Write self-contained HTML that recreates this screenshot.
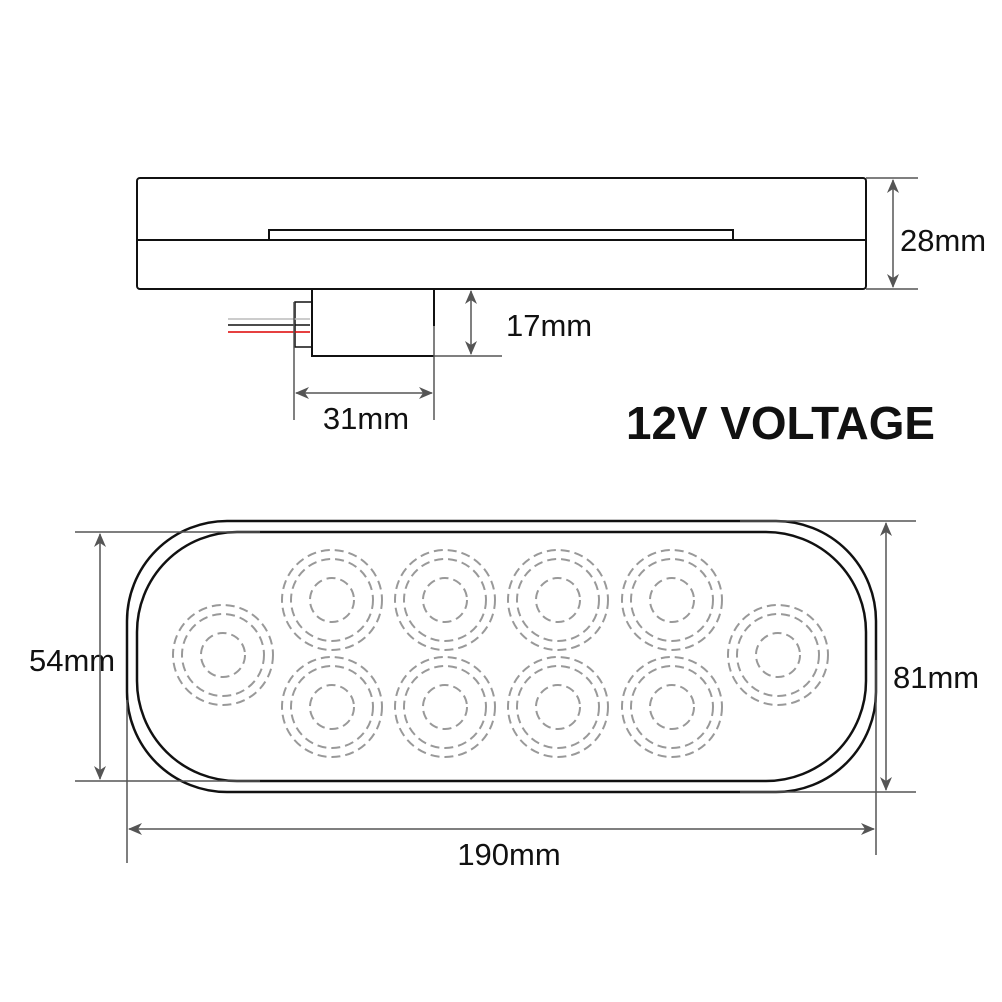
<!DOCTYPE html>
<html><head><style>body{margin:0;background:#fff}svg{display:block}</style></head><body>
<svg width="1002" height="1002" viewBox="0 0 1002 1002" xmlns="http://www.w3.org/2000/svg" font-family="Liberation Sans, Arial, sans-serif">
<defs>
<marker id="a" viewBox="0 0 14 12" refX="13" refY="6" markerWidth="14" markerHeight="12" orient="auto-start-reverse" markerUnits="userSpaceOnUse"><path d="M0,0 L14,6 L0,12 L4,6 Z" fill="#555"/></marker>
<g id="led" fill="none" stroke="#999" stroke-width="2" stroke-dasharray="9,5"><circle r="50"/><circle r="41"/><circle r="22"/></g>
</defs>
<g fill="none" stroke="#111" stroke-width="2">
<rect x="137" y="178" width="729" height="111" rx="3"/>
<line x1="137" y1="240" x2="866" y2="240"/>
<polyline points="269,240 269,230 733,230 733,240"/>
<polyline points="312,289 312,356 434,356"/>
<line x1="434" y1="289" x2="434" y2="326"/>
<rect x="295" y="302" width="17" height="45" stroke-width="1.5"/>
</g>
<line x1="228" y1="319" x2="310" y2="319" stroke="#bbb" stroke-width="1.5"/>
<line x1="228" y1="325" x2="310" y2="325" stroke="#111" stroke-width="1.5"/>
<line x1="228" y1="332" x2="310" y2="332" stroke="#d00" stroke-width="1.5"/>
<g stroke="#555" stroke-width="1.5" fill="none">
<line x1="866" y1="178" x2="918" y2="178"/><line x1="866" y1="289" x2="918" y2="289"/>
<line x1="893" y1="180" x2="893" y2="287" marker-start="url(#a)" marker-end="url(#a)"/>
<line x1="434" y1="356" x2="502" y2="356"/>
<line x1="471" y1="291" x2="471" y2="354" marker-start="url(#a)" marker-end="url(#a)"/>
<line x1="294" y1="302" x2="294" y2="420"/><line x1="434" y1="326" x2="434" y2="420"/>
<line x1="296" y1="393" x2="432" y2="393" marker-start="url(#a)" marker-end="url(#a)"/>
</g>
<g font-size="31" fill="#111">
<text x="900" y="251">28mm</text>
<text x="506" y="336">17mm</text>
<text x="366" y="429" text-anchor="middle">31mm</text>
<text x="893" y="688">81mm</text>
<text x="29" y="671">54mm</text>
<text x="509" y="865" text-anchor="middle">190mm</text>
</g>
<text x="626" y="439" font-size="46" font-weight="bold" fill="#111" textLength="309" lengthAdjust="spacingAndGlyphs">12V VOLTAGE</text>
<g fill="none" stroke="#111" stroke-width="2.5">
<rect x="127" y="521" width="749" height="271" rx="100"/>
<rect x="137" y="532" width="729" height="249" rx="100"/>
</g>
<g stroke="#555" stroke-width="1.5" fill="none">
<line x1="740" y1="521" x2="916" y2="521"/><line x1="740" y1="792" x2="916" y2="792"/>
<line x1="886" y1="523" x2="886" y2="790" marker-start="url(#a)" marker-end="url(#a)"/>
<line x1="75" y1="532" x2="260" y2="532"/><line x1="75" y1="781" x2="260" y2="781"/>
<line x1="100" y1="534" x2="100" y2="779" marker-start="url(#a)" marker-end="url(#a)"/>
<line x1="127" y1="700" x2="127" y2="863"/><line x1="876" y1="660" x2="876" y2="855"/>
<line x1="129" y1="829" x2="874" y2="829" marker-start="url(#a)" marker-end="url(#a)"/>
</g>
<use href="#led" x="223" y="655"/>
<use href="#led" x="778" y="655"/>
<use href="#led" x="332" y="600"/><use href="#led" x="445" y="600"/><use href="#led" x="558" y="600"/><use href="#led" x="672" y="600"/>
<use href="#led" x="332" y="707"/><use href="#led" x="445" y="707"/><use href="#led" x="558" y="707"/><use href="#led" x="672" y="707"/>
</svg>
</body></html>
